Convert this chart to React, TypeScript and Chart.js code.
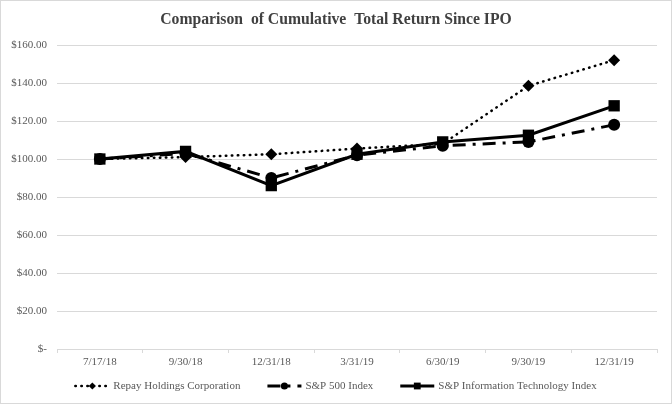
import React, { useEffect, useRef } from "react";
import { Chart, registerables } from "chart.js";

Chart.register(...registerables);

const TITLE = "Comparison  of Cumulative  Total Return Since IPO";
const categories = ["7/17/18", "9/30/18", "12/31/18", "3/31/19", "6/30/19", "9/30/19", "12/31/19"];
const repay = [100, 101, 102.5, 105.5, 108, 138.5, 152];
const sp500 = [100, 103, 90, 102, 107, 109, 118];
const infoTech = [100, 104, 86, 102.5, 109, 112.5, 128];
const seriesNames = ["Repay Holdings Corporation", "S&P 500 Index", "S&P Information Technology Index"];

const FONT = "'Liberation Serif', 'Times New Roman', serif";
const TEXT = "#595959";
const GRID = "#d9d9d9";

function drawMarker(ctx: CanvasRenderingContext2D, style: string, x: number, y: number, r: number) {
  ctx.beginPath();
  if (style === "rectRot") {
    ctx.moveTo(x - r, y);
    ctx.lineTo(x, y - r);
    ctx.lineTo(x + r, y);
    ctx.lineTo(x, y + r);
    ctx.closePath();
  } else if (style === "circle") {
    ctx.arc(x, y, r, 0, Math.PI * 2);
  } else {
    const s = Math.SQRT1_2 * r;
    ctx.rect(x - s, y - s, 2 * s, 2 * s);
  }
  ctx.fill();
}

const decorPlugin = {
  id: "decor",
  beforeDraw(chart: any) {
    const ctx = chart.ctx as CanvasRenderingContext2D;
    ctx.save();
    ctx.fillStyle = "#ffffff";
    ctx.fillRect(0, 0, chart.width, chart.height);
    ctx.strokeStyle = GRID;
    ctx.lineWidth = 1;
    ctx.strokeRect(0.5, 0.5, chart.width - 1, chart.height - 1);
    ctx.restore();
  },
  afterDraw(chart: any) {
    const ctx = chart.ctx as CanvasRenderingContext2D;
    ctx.save();
    // title
    ctx.fillStyle = "#404040";
    ctx.font = `bold 15.7px ${FONT}`;
    ctx.textAlign = "center";
    ctx.textBaseline = "middle";
    ctx.fillText(TITLE, chart.width / 2, 20);

    // legend
    ctx.font = `11px ${FONT}`;
    const sampleW = 34;
    const gap = 4;
    const itemGap = 27;
    const items = chart.data.datasets.map((ds: any) => ({
      ds,
      tw: ctx.measureText(ds.label).width,
    }));
    const total = items.reduce((a: number, it: any) => a + sampleW + gap + it.tw, 0) + itemGap * (items.length - 1);
    let x = chart.width / 2 - total / 2;
    const y = 386;
    items.forEach((it: any) => {
      const ds = it.ds;
      ctx.save();
      ctx.strokeStyle = "#000";
      ctx.lineWidth = ds.borderWidth;
      ctx.lineCap = ds.borderCapStyle || "butt";
      ctx.setLineDash(ds.borderDash || []);
      ctx.beginPath();
      ctx.moveTo(x, y);
      ctx.lineTo(x + sampleW, y);
      ctx.stroke();
      ctx.setLineDash([]);
      ctx.fillStyle = "#000";
      drawMarker(ctx, ds.pointStyle, x + sampleW / 2, y, ds.pointRadius * 0.6);
      ctx.restore();
      ctx.fillStyle = TEXT;
      ctx.textAlign = "left";
      ctx.textBaseline = "middle";
      ctx.fillText(ds.label, x + sampleW + gap, y);
      x += sampleW + gap + it.tw + itemGap;
    });
    ctx.restore();
  },
};

export default function App() {
  const ref = useRef<HTMLCanvasElement | null>(null);
  useEffect(() => {
    document.body.style.margin = "0";
    if (!ref.current) return;
    const chart = new Chart(ref.current, {
      type: "line",
      data: {
        labels: categories,
        datasets: [
          {
            label: seriesNames[0],
            data: repay,
            borderColor: "#000",
            backgroundColor: "#000",
            borderWidth: 2.5,
            borderDash: [0.5, 5.5],
            borderCapStyle: "round",
            pointStyle: "rectRot",
            pointRadius: 6,
            pointBorderWidth: 0,
            tension: 0,
            order: 2,
          },
          {
            label: seriesNames[1],
            data: sp500,
            borderColor: "#000",
            backgroundColor: "#000",
            borderWidth: 3,
            borderDash: [13, 7, 3, 7],
            pointStyle: "circle",
            pointRadius: 6,
            pointBorderWidth: 0,
            tension: 0,
            order: 1,
          },
          {
            label: seriesNames[2],
            data: infoTech,
            borderColor: "#000",
            backgroundColor: "#000",
            borderWidth: 3,
            pointStyle: "rect",
            pointRadius: 8,
            pointBorderWidth: 0,
            tension: 0,
            order: 0,
          },
        ] as any,
      },
      options: {
        animation: false,
        responsive: false,
        devicePixelRatio: 1,
        layout: { padding: { top: 45, right: 15, bottom: 30, left: 0 } },
        plugins: {
          legend: { display: false },
          title: { display: false },
          tooltip: { enabled: false },
        },
        scales: {
          x: {
            offset: true,
            grid: {
              offset: true,
              drawOnChartArea: false,
              drawTicks: true,
              tickLength: 4,
              color: GRID,
            },
            border: { display: true, color: GRID, width: 1 },
            ticks: {
              color: TEXT,
              font: { family: FONT, size: 11 },
              padding: 3,
              maxRotation: 0,
              autoSkip: false,
            },
            afterFit(scale: any) {
              scale.height = 25;
            },
          },
          y: {
            min: 0,
            max: 160,
            grid: { color: GRID, drawTicks: false },
            border: { display: false },
            ticks: {
              stepSize: 20,
              color: TEXT,
              font: { family: FONT, size: 11 },
              padding: 10,
              callback: (v: any) => (Number(v) === 0 ? "$-" : "$" + Number(v).toFixed(2)),
            },
            afterFit(scale: any) {
              scale.width = 57;
            },
          },
        },
      },
      plugins: [decorPlugin],
    });
    return () => chart.destroy();
  }, []);
  return (
    <div style={{ position: "absolute", left: 0, top: 0, width: 672, height: 404 }}>
      <canvas ref={ref} width={672} height={404} style={{ width: 672, height: 404, display: "block" }} />
    </div>
  );
}
